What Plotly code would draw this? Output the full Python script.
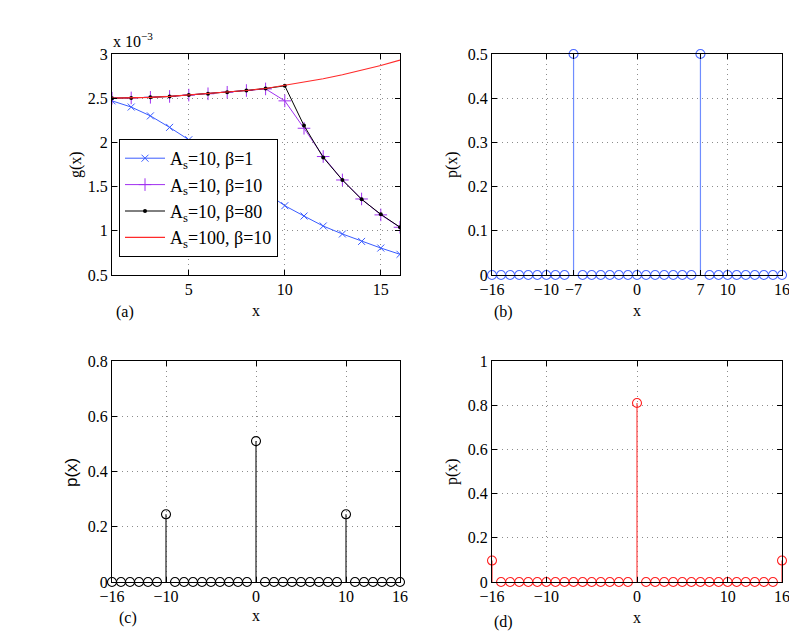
import plotly.graph_objects as go
from plotly.subplots import make_subplots

# ---- data -------------------------------------------------------------
# panel (a): g(x), values in units of 1e-3
x_a = list(range(1, 17))
g_as10_b1 = [2.47, 2.40, 2.30, 2.17, 2.03, 1.88, 1.73, 1.58, 1.43, 1.284,
             1.167, 1.054, 0.964, 0.88, 0.805, 0.734]
g_as10_b10 = [2.50, 2.503, 2.51, 2.52, 2.535, 2.55, 2.567, 2.587, 2.605, 2.47,
              2.16, 1.84, 1.575, 1.36, 1.18, 1.04]
g_as10_b80 = [2.50, 2.503, 2.51, 2.52, 2.535, 2.55, 2.567, 2.587, 2.61, 2.64,
              2.19, 1.83, 1.575, 1.356, 1.187, 1.04]
g_as100_b10 = [2.50, 2.503, 2.51, 2.52, 2.535, 2.55, 2.567, 2.587, 2.61, 2.645,
               2.68, 2.72, 2.765, 2.815, 2.87, 2.93]

# panels (b)-(d): p(x) on x = -16..16
x_p = list(range(-16, 17))
p_b = [0, 0, 0, 0, 0, 0, 0, 0, 0, 0.5, 0, 0, 0, 0, 0, 0, 0,
       0, 0, 0, 0, 0, 0, 0.5, 0, 0, 0, 0, 0, 0, 0, 0, 0]
p_c = [0, 0, 0, 0, 0, 0, 0.245, 0, 0, 0, 0, 0, 0, 0, 0, 0, 0.51,
       0, 0, 0, 0, 0, 0, 0, 0, 0, 0.245, 0, 0, 0, 0, 0, 0]
p_d = [0.097, 0, 0, 0, 0, 0, 0, 0, 0, 0, 0, 0, 0, 0, 0, 0, 0.81,
       0, 0, 0, 0, 0, 0, 0, 0, 0, 0, 0, 0, 0, 0, 0, 0.097]

ticks_b = [-16, -10, -7, 0, 7, 10, 16]
ticks_cd = [-16, -10, 0, 10, 16]

SERIF = "Liberation Serif"
# page body has an 8px margin, so the figure is 8px smaller and everything
# is placed in window pixels minus that offset
OFF = 8
W, H = 797 - OFF, 644 - OFF


def px(v):
    return (v - OFF) / W


def py(v):
    return 1 - (v - OFF) / H


fig = make_subplots(rows=2, cols=2)

blue = "#3a5cff"
purple = "#a030f0"
red = "#ff2a2a"

fig.add_trace(go.Scatter(x=x_a, y=g_as10_b1, mode="lines+markers",
                         name="A<sub>s</sub>=10, β=1",
                         line=dict(color=blue, width=1),
                         marker=dict(symbol="x-thin", size=7, line=dict(color=blue, width=1))),
              row=1, col=1)
fig.add_trace(go.Scatter(x=x_a, y=g_as10_b10, mode="lines+markers",
                         name="A<sub>s</sub>=10, β=10",
                         line=dict(color=purple, width=1),
                         marker=dict(symbol="cross-thin", size=9, line=dict(color=purple, width=1))),
              row=1, col=1)
fig.add_trace(go.Scatter(x=x_a, y=g_as10_b80, mode="lines+markers",
                         name="A<sub>s</sub>=10, β=80",
                         line=dict(color="black", width=1),
                         marker=dict(symbol="circle", size=4, color="black")),
              row=1, col=1)
fig.add_trace(go.Scatter(x=x_a, y=g_as100_b10, mode="lines",
                         name="A<sub>s</sub>=100, β=10",
                         line=dict(color=red, width=1.2)),
              row=1, col=1)


def stems(xv, yv, stem_color, mark_color, row, col):
    sx, sy = [], []
    for xi, yi in zip(xv, yv):
        sx += [xi, xi, None]
        sy += [0, yi, None]
    fig.add_trace(go.Scatter(x=sx, y=sy, mode="lines", showlegend=False,
                             line=dict(color=stem_color, width=1.2),
                             hoverinfo="skip", cliponaxis=False), row=row, col=col)
    fig.add_trace(go.Scatter(x=xv, y=yv, mode="markers", showlegend=False,
                             marker=dict(symbol="circle-open", size=9, color=mark_color,
                                         line=dict(color=mark_color, width=1.1)),
                             cliponaxis=False), row=row, col=col)


stems(x_p, p_b, "#6f8dff", "#4a68ff", 1, 2)
stems(x_p, p_c, "#222222", "black", 2, 1)
stems(x_p, p_d, "#ff4040", "#ff2020", 2, 2)

ax_style = dict(showline=True, linecolor="black", linewidth=1, mirror="ticks",
                ticks="inside", ticklen=5, tickcolor="black", automargin=False,
                showgrid=True, gridcolor="#8c8c8c", griddash="1px,4px", gridwidth=1,
                zeroline=False, tickfont=dict(family=SERIF, size=16, color="black"))

L = [px(112), px(400)]
R = [px(492), px(782)]
T = [py(275), py(54)]
B = [py(582), py(361)]

fig.update_xaxes(ax_style)
fig.update_yaxes(ax_style)

fig.update_xaxes(domain=L, range=[1, 16], tickvals=[5, 10, 15], row=1, col=1)
fig.update_yaxes(domain=T, range=[0.5, 3], tickvals=[0.5, 1, 1.5, 2, 2.5, 3],
                 ticktext=["0.5", "1", "1.5", "2", "2.5", "3"], row=1, col=1)

fig.update_xaxes(domain=R, range=[-16, 16], tickvals=ticks_b, row=1, col=2)
fig.update_yaxes(domain=T, range=[0, 0.5], tickvals=[0, 0.1, 0.2, 0.3, 0.4, 0.5],
                 ticktext=["0", "0.1", "0.2", "0.3", "0.4", "0.5"], row=1, col=2)

fig.update_xaxes(domain=L, range=[-16, 16], tickvals=ticks_cd, row=2, col=1)
fig.update_yaxes(domain=B, range=[0, 0.8], tickvals=[0, 0.2, 0.4, 0.6, 0.8],
                 ticktext=["0", "0.2", "0.4", "0.6", "0.8"], row=2, col=1)

fig.update_xaxes(domain=R, range=[-16, 16], tickvals=ticks_cd, row=2, col=2)
fig.update_yaxes(domain=B, range=[0, 1], tickvals=[0, 0.2, 0.4, 0.6, 0.8, 1],
                 ticktext=["0", "0.2", "0.4", "0.6", "0.8", "1"], row=2, col=2)


def label(text, x, y, angle=0, family=SERIF, size=16, xanchor="center"):
    fig.add_annotation(text=text, x=px(x), y=py(y), xref="paper", yref="paper",
                       showarrow=False, textangle=angle, xanchor=xanchor, yanchor="middle",
                       font=dict(family=family, size=size, color="black"))


label("x 10<sup>−3</sup>", 111, 40, xanchor="left")
label("g(x)", 76, 165, angle=-90)
label("x", 256, 311)
label("(a)", 125, 312)

label("p(x)", 452, 165, angle=-90)
label("x", 637, 310)
label("(b)", 503, 312)

label("p(x)", 72, 472, angle=-90, family="Liberation Sans", size=17)
label("x", 256, 615)
label("(c)", 128, 618)

label("p(x)", 452, 472, angle=-90)
label("x", 637, 617)
label("(d)", 503, 622)

fig.update_layout(
    width=W, height=H, margin=dict(l=0, r=0, t=0, b=0, autoexpand=False),
    paper_bgcolor="white", plot_bgcolor="white",
    legend=dict(x=px(119), y=py(139), xanchor="left", yanchor="top",
                bgcolor="white", bordercolor="black", borderwidth=1,
                itemwidth=40, font=dict(family=SERIF, size=18, color="black")),
)

fig.write_html("out.html")
